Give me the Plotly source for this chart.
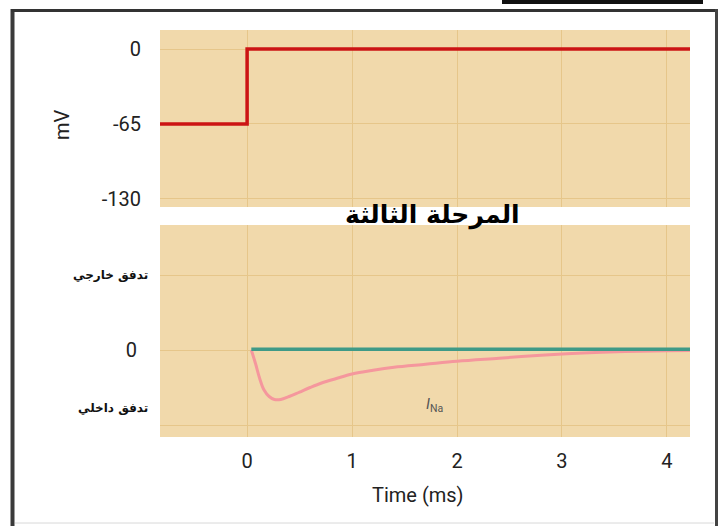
import plotly.graph_objects as go

# ---------------- data ----------------
time_v = [-0.83, 0.0, 0.0, 4.22]
voltage_mv = [-65, -65, 0, 0]

time_ina = [0.04, 0.08, 0.12, 0.16, 0.21, 0.26, 0.32, 0.4, 0.5, 0.6, 0.71, 0.85,
            1.0, 1.2, 1.4, 1.7, 2.0, 2.4, 2.8, 3.2, 3.6, 4.0, 4.22]
ina = [0.0, -0.18, -0.38, -0.53, -0.62, -0.66, -0.66, -0.62, -0.56, -0.50, -0.44, -0.38,
       -0.32, -0.27, -0.23, -0.19, -0.15, -0.11, -0.07, -0.04, -0.02, -0.01, -0.005]

time_ik = [0.04, 4.22]
ik = [0.01, 0.01]

x_ticks = [0, 1, 2, 3, 4]
v_ticks = [0, -65, -130]
v_ticktext = ["0", "-65", "-130"]
i_ticks = [1, 0, -1]
i_ticktext = ["", "0", ""]

title_text = "المرحلة الثالثة"
outward_label = "تدفق خارجي"
inward_label = "تدفق داخلي"
x_title = "Time (ms)"
v_title = "mV"
ina_label = "<i>I</i><sub>Na</sub>"

# ---------------- layout helpers ----------------
W, H = 719, 526
L, R, T, B = 160, 29, 30, 89
PW, PH = W - L - R, H - T - B


def px(x):
    return (x - L) / PW


def py(y):
    return (H - B - y) / PH


TAN = "#f1d9ab"
GRID = "#e6c68a"
FONT = "Roboto, Liberation Sans, sans-serif"
AR_FONT = "DejaVu Sans, sans-serif"

fig = go.Figure()

fig.add_trace(go.Scatter(x=time_v, y=voltage_mv, mode="lines",
                         line=dict(color="#cc1414", width=3.5),
                         xaxis="x", yaxis="y", showlegend=False, hoverinfo="skip"))
fig.add_trace(go.Scatter(x=time_ina, y=ina, mode="lines",
                         line=dict(color="#f5979d", width=3, shape="spline"),
                         xaxis="x2", yaxis="y2", showlegend=False, hoverinfo="skip"))
fig.add_trace(go.Scatter(x=time_ik, y=ik, mode="lines",
                         line=dict(color="#3f9a87", width=3.5),
                         xaxis="x2", yaxis="y2", showlegend=False, hoverinfo="skip"))

x_range = [-0.83, 4.22]
axis_common = dict(showline=False, zeroline=False, gridcolor=GRID, gridwidth=1,
                   tickfont=dict(family=FONT, size=20, color="#222"))

fig.update_layout(
    width=W, height=H,
    margin=dict(l=L, r=R, t=T, b=B),
    paper_bgcolor="white", plot_bgcolor=TAN,
    xaxis=dict(domain=[0, 1], range=x_range, tickvals=x_ticks, showticklabels=False,
               anchor="y", **axis_common),
    yaxis=dict(domain=[py(207), 1], range=[-137, 16.5], tickvals=v_ticks,
               ticktext=v_ticktext, ticklabelstandoff=18, anchor="x", **axis_common),
    xaxis2=dict(domain=[0, 1], range=x_range, tickvals=x_ticks, ticklabelstandoff=10,
                anchor="y2", **axis_common),
    yaxis2=dict(domain=[0, py(225)], range=[-1.16, 1.667], tickvals=i_ticks,
                ticktext=i_ticktext, ticklabelstandoff=22, anchor="x2", **axis_common),
)

annotations = [
    dict(text="<b>" + title_text + "</b>", x=px(432), y=py(215), xref="paper", yref="paper",
         showarrow=False, font=dict(family=AR_FONT, size=25, color="#000"),
         xanchor="center", yanchor="middle"),
    dict(text="<b>" + outward_label + "</b>", x=px(150), y=1, xref="paper", yref="y2",
         showarrow=False, font=dict(family=AR_FONT, size=12, color="#111"),
         xanchor="right", yanchor="middle"),
    dict(text="<b>" + inward_label + "</b>", x=px(150), y=-0.77, xref="paper", yref="y2",
         showarrow=False, font=dict(family=AR_FONT, size=12, color="#111"),
         xanchor="right", yanchor="middle"),
    dict(text=x_title, x=px(418), y=py(495), xref="paper", yref="paper",
         showarrow=False, font=dict(family=FONT, size=20, color="#222"),
         xanchor="center", yanchor="middle"),
    dict(text=v_title, x=px(62), y=py(125), xref="paper", yref="paper", textangle=-90,
         showarrow=False, font=dict(family=FONT, size=20, color="#222"),
         xanchor="center", yanchor="middle"),
    dict(text=ina_label, x=1.79, y=-0.73, xref="x2", yref="y2",
         showarrow=False, font=dict(family=FONT, size=15, color="#555"),
         xanchor="center", yanchor="middle"),
]
fig.update_layout(annotations=annotations)

shapes = [
    dict(type="line", xref="paper", yref="paper", x0=px(12.5), x1=px(12.5),
         y0=py(9), y1=py(H + 2), line=dict(color="#3a3a3a", width=4)),
    dict(type="line", xref="paper", yref="paper", x0=px(11), x1=px(717.5),
         y0=py(10.5), y1=py(10.5), line=dict(color="#333", width=3)),
    dict(type="line", xref="paper", yref="paper", x0=px(716.5), x1=px(716.5),
         y0=py(9), y1=py(H + 2), line=dict(color="#444", width=3)),
    dict(type="line", xref="paper", yref="paper", x0=px(15), x1=px(714),
         y0=py(523), y1=py(523), line=dict(color="#d8d8d8", width=1)),
    dict(type="rect", xref="paper", yref="paper", x0=px(502), x1=px(703),
         y0=py(4), y1=py(-2), line=dict(width=0), fillcolor="#111"),
]
fig.update_layout(shapes=shapes)

fig.write_html("out.html", config={"displayModeBar": False},
               post_script="document.body.style.margin='0';")
